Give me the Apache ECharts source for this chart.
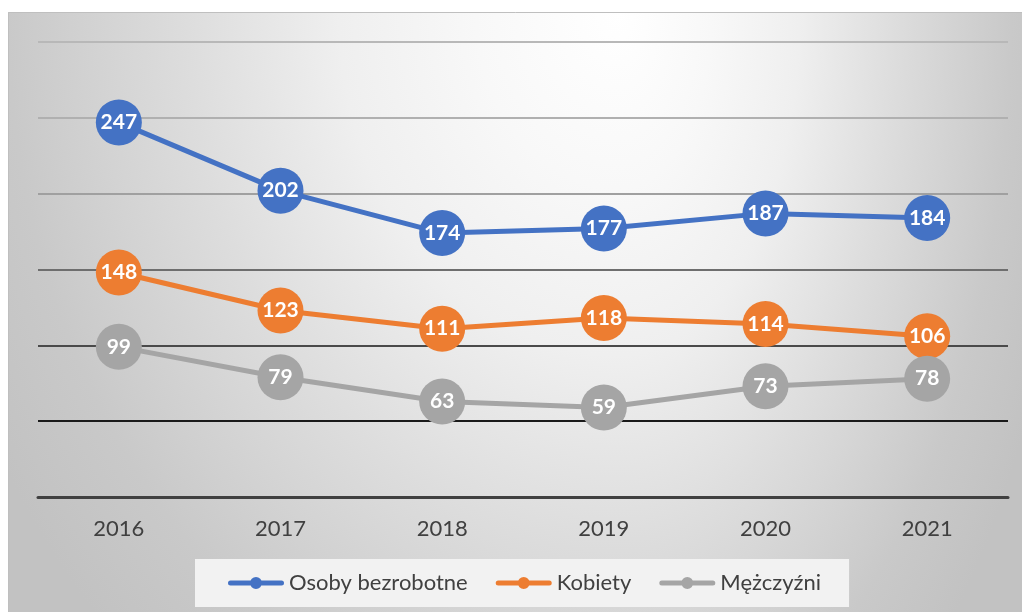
<!DOCTYPE html>
<html>
<head>
<meta charset="utf-8">
<script src="https://cdn.jsdelivr.net/npm/echarts@6/dist/echarts.min.js"></script>
<style>
html,body{margin:0;padding:0;background:#fff;}
#chart{width:1022px;height:612px;}
</style>
</head>
<body>
<div id="chart"></div>
<script>
var categories = ['2016', '2017', '2018', '2019', '2020', '2021'];
var osoby = [247, 202, 174, 177, 187, 184];
var kobiety = [148, 123, 111, 118, 114, 106];
var mezczyzni = [99, 79, 63, 59, 73, 78];
var seriesNames = ['Osoby bezrobotne', 'Kobiety', 'Mężczyźni'];

var FONT = 'Lato';
var stops = [
  {offset: 0, color: '#ffffff'},
  {offset: 0.2, color: '#f8f8f8'},
  {offset: 0.39, color: '#efefef'},
  {offset: 0.6, color: '#dddddd'},
  {offset: 0.85, color: '#c9c9c9'},
  {offset: 1, color: '#c2c2c2'}
];
function radial(x, y, r) {
  return {type: 'radial', x: x, y: y, r: r, colorStops: stops, global: false};
}
var sy = 0.88, sxL = 0.72, sxR = 0.46;
var lh = 600 / sy;
var lwL = 612 / sxL, lwR = 402 / sxR;
var rr = 1000 / Math.min(lwL, lh);
var rr2 = 1000 / Math.min(lwR, lh);

var legendIcon = 'path://M2.5,3.5 L53.5,3.5 A2.5,2.5 0 1,1 53.5,8.5 L2.5,8.5 A2.5,2.5 0 1,1 2.5,3.5 Z M22,6 A6,6 0 1,1 34,6 A6,6 0 1,1 22,6 Z M0,0 M56,12';

function mkSeries(name, data, color) {
  return {
    name: name, type: 'line', data: data,
    symbol: 'circle', symbolSize: 46,
    lineStyle: {color: color, width: 5},
    itemStyle: {color: color},
    label: {show: true, position: 'inside', color: '#ffffff', fontFamily: FONT, fontWeight: 'bold', fontSize: 21},
    emphasis: {disabled: true},
    animation: false
  };
}

var chart = echarts.init(document.getElementById('chart'), null, {renderer: 'canvas'});
chart.setOption({
  animation: false,
  graphic: [
    {type: 'rect', z: -10, x: 8, y: 12, scaleX: sxL, scaleY: sy, silent: true,
     shape: {x: 0, y: 0, width: lwL, height: lh}, style: {fill: radial(1, 0, rr)}},
    {type: 'rect', z: -10, x: 620, y: 12, scaleX: sxR, scaleY: sy, silent: true,
     shape: {x: 0, y: 0, width: lwR, height: lh}, style: {fill: radial(0, 0, rr2)}},
    {type: 'rect', z: -9, silent: true, shape: {x: 8.5, y: 12.5, width: 1020, height: 605},
     style: {fill: 'none', stroke: '#bfbfbf', lineWidth: 1}}
  ],
  grid: {left: 38, right: 14, top: 42, bottom: 115, containLabel: false},
  xAxis: {
    type: 'category', data: categories, boundaryGap: true,
    axisLine: {show: true, lineStyle: {color: '#404040', width: 3}},
    axisTick: {show: false},
    axisLabel: {color: '#404040', fontFamily: FONT, fontSize: 22, margin: 21}
  },
  yAxis: {
    type: 'value', min: 0, max: 300, interval: 50,
    axisLine: {show: false}, axisTick: {show: false}, axisLabel: {show: false},
    splitLine: {show: true, lineStyle: {width: 2, color: ['#404040', '#1a1a1a', '#4a4a4a', '#6e6e6e', '#a0a0a0', '#b0b0b0', '#b8b8b8']}}
  },
  legend: {
    left: 195, top: 559,
    backgroundColor: '#f2f2f2',
    padding: [13, 28, 13, 33],
    itemGap: 28, itemWidth: 56, itemHeight: 12,
    icon: legendIcon,
    textStyle: {color: '#404040', fontFamily: FONT, fontSize: 22},
    data: seriesNames
  },
  series: [
    mkSeries(seriesNames[0], osoby, '#4472c4'),
    mkSeries(seriesNames[1], kobiety, '#ed7d31'),
    mkSeries(seriesNames[2], mezczyzni, '#a5a5a5')
  ]
});
</script>
</body>
</html>
